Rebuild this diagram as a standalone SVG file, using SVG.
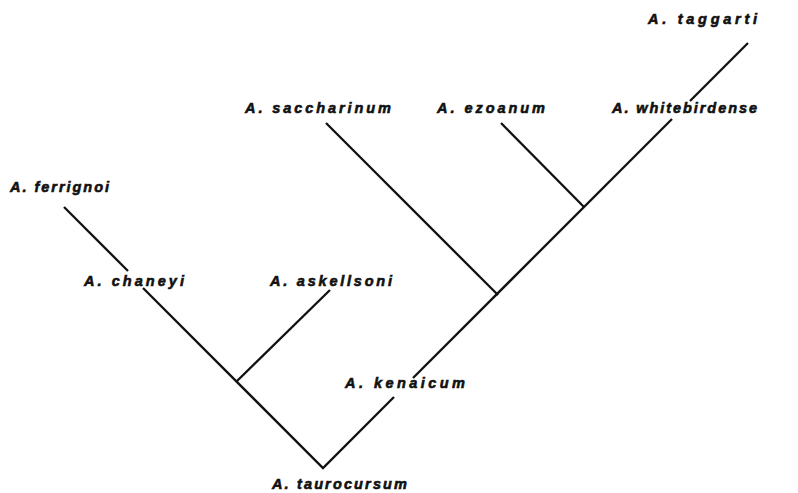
<svg xmlns="http://www.w3.org/2000/svg" width="798" height="493" viewBox="0 0 798 493">
<style>
.lbl{font-family:"Liberation Sans",Arial,sans-serif;font-weight:bold;font-style:italic;font-size:14.5px;fill:#111;stroke:#111;stroke-width:0.6}
.edge{stroke:#111;stroke-width:2.3;fill:none;stroke-linecap:butt}
</style>
<rect width="798" height="493" fill="#fff"/>
<g id="connectors">
<path class="edge" d="M143,288 L323,468 L394,397"/>
<path class="edge" d="M128,271 L64,207"/>
<path class="edge" d="M413,378 L672,119"/>
<path class="edge" d="M690,101 L748,43"/>
<path class="edge" d="M237,381 L330,290"/>
<path class="edge" d="M498,295 L326,123"/>
<path class="edge" d="M584,207 L501,123"/>
</g>
<g id="n-taggarti"><text class="lbl" x="648" y="24" textLength="109" lengthAdjust="spacing">A. taggarti</text></g>
<g id="n-saccharinum"><text class="lbl" x="245" y="113" textLength="146" lengthAdjust="spacing">A. saccharinum</text></g>
<g id="n-ezoanum"><text class="lbl" x="437" y="113" textLength="108" lengthAdjust="spacing">A. ezoanum</text></g>
<g id="n-whitebirdense"><text class="lbl" x="612" y="113" textLength="145" lengthAdjust="spacing">A. whitebirdense</text></g>
<g id="n-ferrignoi"><text class="lbl" x="10" y="192" textLength="99" lengthAdjust="spacing">A. ferrignoi</text></g>
<g id="n-chaneyi"><text class="lbl" x="84" y="286" textLength="100" lengthAdjust="spacing">A. chaneyi</text></g>
<g id="n-askellsoni"><text class="lbl" x="270" y="286" textLength="122" lengthAdjust="spacing">A. askellsoni</text></g>
<g id="n-kenaicum"><text class="lbl" x="345" y="388" textLength="120" lengthAdjust="spacing">A. kenaicum</text></g>
<g id="n-taurocursum"><text class="lbl" x="272" y="489" textLength="135" lengthAdjust="spacing">A. taurocursum</text></g>
</svg>
